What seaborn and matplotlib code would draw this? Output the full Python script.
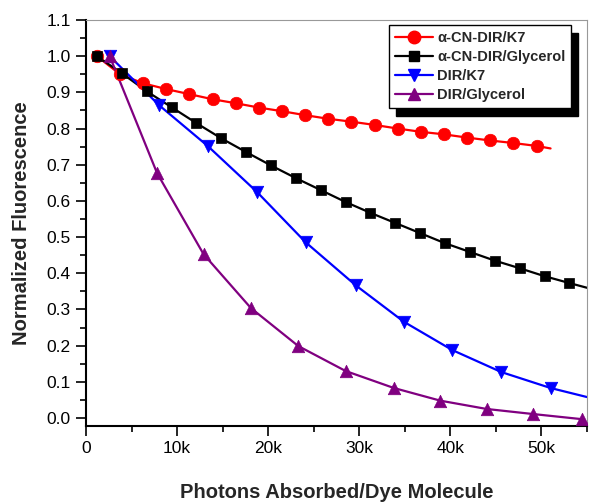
import matplotlib
matplotlib.use("Agg")
import matplotlib.pyplot as plt
import seaborn as sns
import pandas as pd
import numpy as np

# ---- data (x in photons, y normalized fluorescence) ----
red_x = [1200, 3740, 6280, 8820, 11360, 13900, 16440, 18980, 21520, 24060,
         26600, 29140, 31680, 34220, 36760, 39300, 41840, 44380, 46920, 49460, 51000]
red_y = [1.000, 0.950, 0.925, 0.909, 0.895, 0.881, 0.870, 0.858, 0.848, 0.837,
         0.827, 0.819, 0.810, 0.800, 0.791, 0.784, 0.775, 0.767, 0.760, 0.752, 0.745]

blk_x = [1200, 3930, 6660, 9390, 12120, 14850, 17580, 20310, 23040, 25770,
         28500, 31230, 33960, 36690, 39420, 42150, 44880, 47610, 50340, 53070, 55000]
blk_y = [1.000, 0.953, 0.903, 0.859, 0.815, 0.773, 0.735, 0.698, 0.663, 0.630,
         0.597, 0.567, 0.539, 0.511, 0.483, 0.459, 0.435, 0.414, 0.392, 0.373, 0.360]

blu_x = [2600, 8000, 13400, 18800, 24100, 29600, 34900, 40200, 45600, 51000, 55000]
blu_y = [1.000, 0.865, 0.751, 0.624, 0.486, 0.367, 0.266, 0.188, 0.127, 0.083, 0.058]

pur_x = [2600, 7800, 12900, 18100, 23300, 28500, 33800, 38900, 44000, 49100, 54400]
pur_y = [1.000, 0.677, 0.453, 0.304, 0.199, 0.130, 0.083, 0.048, 0.025, 0.011, -0.003]

series_names = ["α-CN-DIR/K7", "α-CN-DIR/Glycerol", "DIR/K7", "DIR/Glycerol"]
series_colors = ["#ff0000", "#000000", "#0000ff", "#800080"]
series_markers = ["o", "s", "v", "^"]
series_msize = [9, 7.5, 9, 9]
# number of real markers per series (last point only continues the line)
series_nmark = [20, 20, 10, 11]

x_ticks = [0, 10000, 20000, 30000, 40000, 50000]
x_tick_labels = ["0", "10k", "20k", "30k", "40k", "50k"]
y_ticks = [0.0, 0.1, 0.2, 0.3, 0.4, 0.5, 0.6, 0.7, 0.8, 0.9, 1.0, 1.1]

sns.set_theme(style="white")
plt.rcParams["font.family"] = ["Liberation Sans", "DejaVu Sans"]

fig = plt.figure(figsize=(6.0, 5.03), dpi=100)
ax = fig.add_axes([86 / 600, 1 - 426 / 503, 501 / 600, 406 / 503])

data = [(red_x, red_y), (blk_x, blk_y), (blu_x, blu_y), (pur_x, pur_y)]
handles = []
for (xs, ys), name, c, m, ms, nm in zip(data, series_names, series_colors,
                                        series_markers, series_msize, series_nmark):
    df = pd.DataFrame({"x": xs, "y": ys})
    sns.lineplot(data=df, x="x", y="y", ax=ax, color=c, linewidth=1.6,
                 sort=False, legend=False)
    sns.scatterplot(data=df.iloc[:nm], x="x", y="y", ax=ax, color=c, marker=m,
                    s=ms ** 2, edgecolor=c, linewidth=0.5, legend=False, zorder=3)
    h, = ax.plot([], [], color=c, marker=m, markersize=ms, linewidth=1.6, label=name)
    handles.append(h)

ax.set_xlim(0, 55000)
ax.set_ylim(-0.022, 1.1)
ax.set_xticks(x_ticks)
ax.set_xticklabels(x_tick_labels)
ax.set_xticks([5000, 15000, 25000, 35000, 45000, 55000], minor=True)
ax.set_yticks(y_ticks)
ax.set_yticklabels([f"{v:.1f}" for v in y_ticks])
ax.set_yticks([0.05 + 0.1 * i for i in range(11)], minor=True)

ax.tick_params(axis="both", which="both", direction="out", labelsize=12.5,
               colors="black", left=True, bottom=True, top=False, right=False)
ax.tick_params(axis="both", which="major", length=7, width=1.2, pad=4)
ax.tick_params(axis="both", which="minor", length=4.5, width=1.2)

for side in ["left", "bottom"]:
    ax.spines[side].set_color("black")
    ax.spines[side].set_linewidth(1.5)
for side in ["top", "right"]:
    ax.spines[side].set_color("#999999")
    ax.spines[side].set_linewidth(0.8)

ax.set_xlabel("Photons Absorbed/Dye Molecule", fontsize=14.5, fontweight="bold", labelpad=19)
ax.set_ylabel("Normalized Fluorescence", fontsize=14.5, fontweight="bold", labelpad=11)

leg = ax.legend(handles=handles, loc="upper right",
                bbox_to_anchor=(571 / 600, 1 - 25 / 503), bbox_transform=fig.transFigure,
                fancybox=False, frameon=True, borderaxespad=0,
                shadow={"color": "black", "alpha": 1, "ox": 5, "oy": -6},
                prop={"size": 10.5, "weight": "bold"}, handlelength=2.6,
                handletextpad=0.3, labelspacing=0.35, borderpad=0.4)
leg.get_frame().set_edgecolor("black")
leg.get_frame().set_linewidth(1.0)
leg.get_frame().set_alpha(1)

fig.savefig("out.png", dpi=100)
